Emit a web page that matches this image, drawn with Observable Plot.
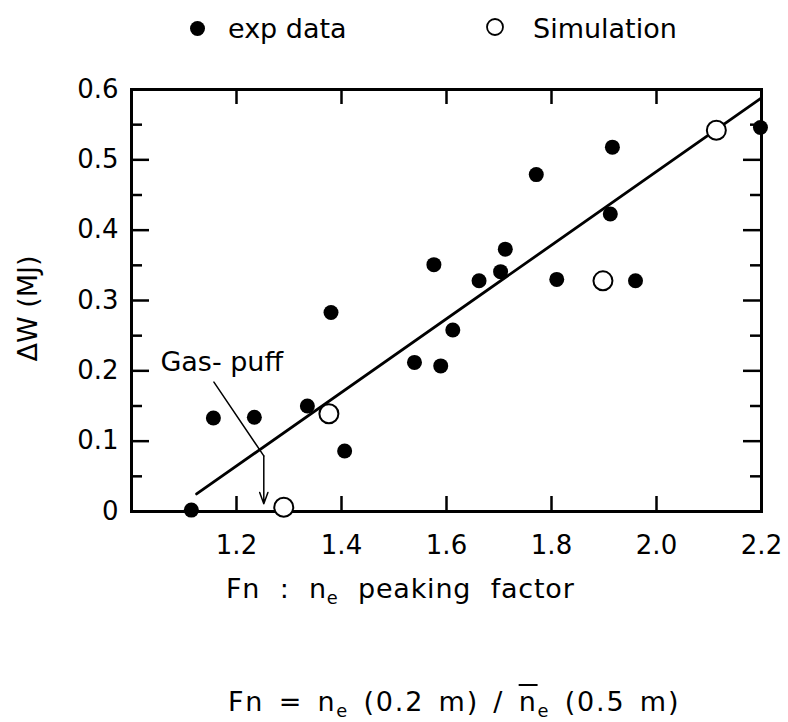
<!DOCTYPE html>
<html>
<head>
<meta charset="utf-8">
<script src="https://cdn.jsdelivr.net/npm/d3@7"></script>
<script src="https://cdn.jsdelivr.net/npm/@observablehq/plot@0.6"></script>
<style>
  body { margin: 0; background: #fff; }
  #root { position: relative; width: 788px; height: 722px; font-family: "DejaVu Sans", sans-serif; color: #000; overflow: hidden; }
  .abs { position: absolute; white-space: nowrap; }
  sub { font-size: 0.66em; vertical-align: -0.35em; }
</style>
</head>
<body>
<div id="root"></div>
<script>
// ---- data ----
const expX = [1.114, 1.156, 1.234, 1.335, 1.380, 1.406, 1.539, 1.576, 1.589, 1.612, 1.662, 1.703, 1.712, 1.771, 1.810, 1.912, 1.916, 1.960, 2.198];
const expY = [0.002, 0.133, 0.134, 0.150, 0.283, 0.086, 0.212, 0.351, 0.207, 0.258, 0.328, 0.341, 0.373, 0.479, 0.330, 0.423, 0.518, 0.328, 0.546];
const simX = [1.290, 1.376, 1.898, 2.114];
const simY = [0.006, 0.139, 0.328, 0.542];
const fitX = [1.124, 2.2];
const fitY = [0.025, 0.588];
const xTicks = [1.2, 1.4, 1.6, 1.8, 2.0, 2.2];
const xTickMarks = [1.2, 1.4, 1.6, 1.8, 2.0];
const yTicks = [0, 0.1, 0.2, 0.3, 0.4, 0.5, 0.6];
const yMajorMarks = [0.1, 0.2, 0.3, 0.4, 0.5];
const yMinorMarks = [0.05, 0.15, 0.25, 0.35, 0.45, 0.55];
const gasLabel = ["Gas- puff"];
const gasLabelX = [1.055];
const gasLabelY = [0.212];
const gasGuideX = [1.157, 1.252];
const gasGuideY = [0.184, 0.079];
const gasArrowX = [1.252, 1.252];
const gasArrowY = [0.079, 0.011];
const legendLabels = ["exp data", "Simulation"];
const yLabel = ["ΔW (MJ)"];

// ---- build ----
const root = document.getElementById("root");
const W = 788, H = 510, mL = 131, mR = 27, mT = 34, mB = 54;
const FW = W - mL - mR, FH = H - mT - mB;

const exp = expX.map((x, i) => ({x, y: expY[i]}));
const sim = simX.map((x, i) => ({x, y: simY[i]}));
const fit = fitX.map((x, i) => ({x, y: fitY[i]}));
const guide = gasGuideX.map((x, i) => ({x, y: gasGuideY[i]}));

const chart = Plot.plot({
  width: W, height: H,
  marginLeft: mL, marginRight: mR, marginTop: mT, marginBottom: mB,
  style: {fontFamily: "DejaVu Sans, sans-serif", background: "#fff", color: "#000", overflow: "visible"},
  x: {domain: [1.0, 2.2]},
  y: {domain: [0, 0.6]},
  marks: [
    Plot.axisX(xTicks, {tickSize: 0, tickPadding: 24, fontSize: 26, tickFormat: d => d.toFixed(1), label: null}),
    Plot.axisY(yTicks, {tickSize: 0, tickPadding: 13, fontSize: 26, tickFormat: d => d === 0 ? "0" : d.toFixed(1), label: null}),
    Plot.text(yLabel, {frameAnchor: "left", rotate: -90, dx: -103, dy: 8, fontSize: 27, text: d => d,
      textAnchor: "middle", lineAnchor: "middle", ariaLabel: "y-label"}),
    Plot.tickX(xTickMarks, {x: d => d, insetTop: FH - 15, strokeWidth: 2.5}),
    Plot.tickX(xTickMarks, {x: d => d, insetBottom: FH - 15, strokeWidth: 2.5}),
    Plot.tickY(yMajorMarks, {y: d => d, insetRight: FW - 18, strokeWidth: 2.5}),
    Plot.tickY(yMinorMarks, {y: d => d, insetRight: FW - 11, strokeWidth: 2.5}),
    Plot.tickY(yMajorMarks, {y: d => d, insetLeft: FW - 18, strokeWidth: 2.5}),
    Plot.tickY(yMinorMarks, {y: d => d, insetLeft: FW - 11, strokeWidth: 2.5}),
    Plot.frame({strokeWidth: 3}),
    Plot.line(fit, {x: "x", y: "y", strokeWidth: 2.8}),
    Plot.line(guide, {x: "x", y: "y", strokeWidth: 1.5}),
    Plot.arrow([0], {x1: () => gasArrowX[0], y1: () => gasArrowY[0], x2: () => gasArrowX[1], y2: () => gasArrowY[1],
      strokeWidth: 1.5, headLength: 12, headAngle: 40}),
    Plot.text(gasLabel, {x: () => gasLabelX[0], y: () => gasLabelY[0], text: d => d, textAnchor: "start", fontSize: 27}),
    Plot.dot(exp, {x: "x", y: "y", r: 7.5, fill: "#000", stroke: "none"}),
    Plot.dot(sim, {x: "x", y: "y", r: 9.5, fill: "#fff", stroke: "#000", strokeWidth: 2})
  ]
});
d3.select(chart).selectAll('g[aria-label="y-label"] text').style("letter-spacing", "3px");
chart.style.position = "absolute";
chart.style.left = "0px";
chart.style.top = "55px";
root.appendChild(chart);

// legend (above the SVG)
function legendItem(filled, cx, cy, r, label, tx) {
  const s = d3.create("svg").attr("class", "abs").attr("width", 2 * r + 4).attr("height", 2 * r + 4)
    .style("left", (cx - r - 2) + "px").style("top", (cy - r - 2) + "px");
  s.append("circle").attr("cx", r + 2).attr("cy", r + 2).attr("r", filled ? r : r - 1)
    .attr("fill", filled ? "#000" : "#fff").attr("stroke", "#000").attr("stroke-width", filled ? 0 : 1.8);
  root.appendChild(s.node());
  const t = document.createElement("div");
  t.className = "abs";
  t.textContent = label;
  t.style.left = tx + "px"; t.style.top = "14px"; t.style.fontSize = "27px"; t.style.lineHeight = "30px";
  root.appendChild(t);
}
legendItem(true, 197, 28, 7.5, legendLabels[0], 228);
legendItem(false, 495, 27, 9, legendLabels[1], 533);

// x axis title and formula (below the SVG)
const xt = document.createElement("div");
xt.className = "abs";
xt.style.cssText += "left:226px;top:575px;font-size:27px;line-height:27px;word-spacing:10px;letter-spacing:0.8px;";
xt.innerHTML = "Fn : n<sub>e</sub> peaking factor";
root.appendChild(xt);

const fm = document.createElement("div");
fm.className = "abs";
fm.style.cssText += "left:228px;top:688px;font-size:27px;line-height:27px;word-spacing:4px;letter-spacing:1.8px;";
fm.innerHTML = "Fn = n<sub>e</sub> (0.2 m) / <span style='text-decoration:overline'>n</span><sub>e</sub> (0.5 m)";
root.appendChild(fm);
</script>
</body>
</html>
